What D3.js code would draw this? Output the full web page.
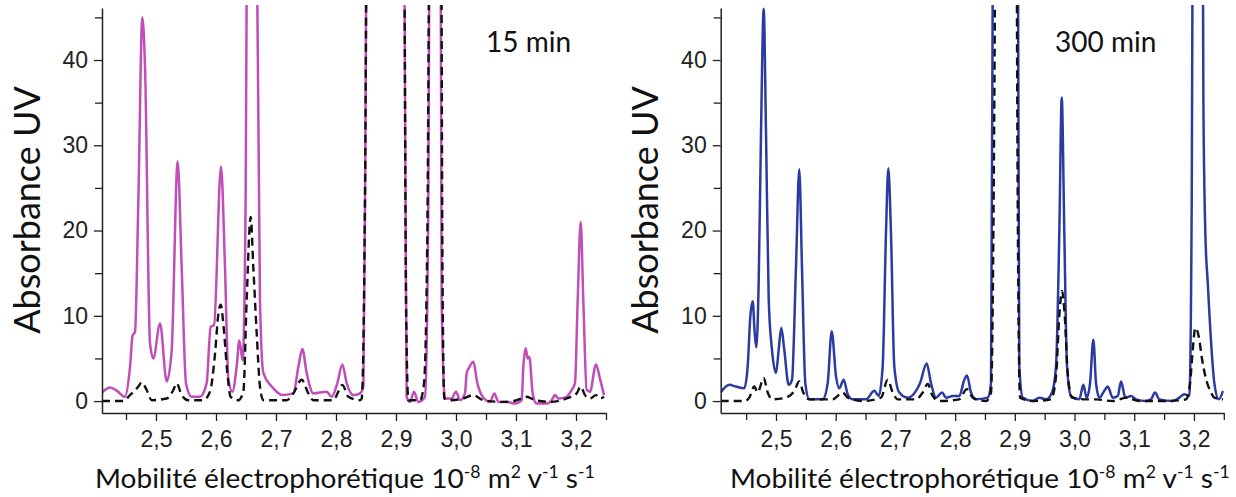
<!DOCTYPE html>
<html><head><meta charset="utf-8">
<script src="https://cdn.jsdelivr.net/npm/d3@7"></script>
<style>
body{margin:0;background:#fff}
.tick text{font-family:"Liberation Sans",Arial,sans-serif;fill:#222}
</style></head>
<body><svg id="chart" width="1236" height="497"></svg>
<script>
// ---------- data ----------
const xMajorTicks = [2.5, 2.6, 2.7, 2.8, 2.9, 3.0, 3.1, 3.2];
const xMinorTicks = [2.45, 2.55, 2.65, 2.75, 2.85, 2.95, 3.05, 3.15, 3.25];
const yMajorTicks = [0, 10, 20, 30, 40];
const yMinorTicks = [5, 15, 25, 35, 45];
const panelTitles = ["15 min", "300 min"];
const yLabel = "Absorbance UV";

// 15 min sample (solid, magenta)
const sample15 = [[2.41,1.0],[2.4233,1.6],[2.435,1.2],[2.448,0.5],[2.4567,4.0],[2.461,7.7],[2.465,8.1],[2.4706,23.6],[2.4772,45.0],[2.4817,39.2],[2.49,6.8],[2.4956,5.0],[2.5067,9.1],[2.5178,2.3],[2.526,5.8],[2.5361,28.1],[2.5428,15.7],[2.55,2.1],[2.5594,0.5],[2.5733,0.5],[2.5844,2.1],[2.5911,8.7],[2.5967,8.9],[2.6083,27.5],[2.615,15.7],[2.6206,2.6],[2.6272,1.1],[2.6344,4.0],[2.6389,7.1],[2.6444,4.8],[2.6494,23.6],[2.6525,70],[2.66,120],[2.6665,70],[2.6733,11.8],[2.6789,3.3],[2.6928,1.7],[2.7011,1.1],[2.7094,0.7],[2.7289,0.9],[2.7372,4.0],[2.7439,6.1],[2.7511,3.3],[2.7622,0.9],[2.7844,1.1],[2.7928,0.5],[2.8022,2.1],[2.8106,4.3],[2.8178,2.1],[2.8289,0.7],[2.84,0.9],[2.8456,1.7],[2.849,30],[2.853,90],[2.88,250],[2.911,90],[2.9155,30],[2.9178,0.5],[2.9233,-0.1],[2.93,1.1],[2.9372,-0.1],[2.9483,0.5],[2.9539,23.6],[2.957,80],[2.965,150],[2.9735,80],[2.9761,11.8],[2.9817,0.3],[2.9928,0.3],[3.0,1.1],[3.0067,0.1],[3.015,0.9],[3.0178,3.3],[3.0217,3.9],[3.0289,4.6],[3.0356,2.1],[3.0428,0.7],[3.0567,-0.1],[3.0639,0.9],[3.0706,-0.1],[3.0844,-0.1],[3.0983,-0.3],[3.1094,0.1],[3.1122,4.0],[3.1161,6.2],[3.1194,5.0],[3.1222,5.2],[3.1278,0.9],[3.1344,-0.3],[3.1511,-0.3],[3.1594,0.1],[3.165,0.7],[3.1706,0.3],[3.1844,0.5],[3.1928,1.3],[3.1983,2.1],[3.2028,11.8],[3.2078,21.0],[3.2122,11.8],[3.2178,1.3],[3.2233,1.1],[3.2333,4.3],[3.24,2.6],[3.2467,0.7]];

// 15 min reference (dashed, black)
const ref15 = [[2.41,0],[2.445,0],[2.4567,0.7],[2.4706,1.7],[2.4761,2.2],[2.4844,1.3],[2.4928,0.1],[2.5178,0.3],[2.5289,1.3],[2.5344,2.1],[2.5428,0.7],[2.5539,0.1],[2.5789,0.1],[2.59,1.1],[2.5983,5.5],[2.6039,10.2],[2.6078,11.3],[2.6133,8.2],[2.6189,3.3],[2.6244,0.5],[2.6372,0.1],[2.6456,1.1],[2.6511,11.8],[2.6578,21.6],[2.6622,15.7],[2.6678,8.0],[2.6733,1.7],[2.6789,0.1],[2.7178,0.1],[2.7289,0.9],[2.7428,2.5],[2.7539,0.9],[2.7622,0.1],[2.7956,0.1],[2.8039,1.1],[2.8106,1.9],[2.8206,0.5],[2.84,0.1],[2.8428,0.3],[2.8483,23.6],[2.8525,80],[2.88,250],[2.9125,80],[2.9167,11.8],[2.9206,0.1],[2.94,0.1],[2.9467,2.1],[2.9522,19.6],[2.9565,70],[2.966,150],[2.975,70],[2.9775,15],[2.9805,0.3],[2.99,0.1],[3.0122,0.3],[3.0289,0.7],[3.0456,0.1],[3.0789,-0.1],[3.1011,0.1],[3.1178,0.5],[3.1317,0.1],[3.1567,-0.1],[3.1844,0.3],[3.2011,0.9],[3.2078,1.7],[3.215,0.7],[3.2233,0.3],[3.2333,0.7],[3.24,0.3],[3.2467,0.5]];

// 300 min sample (solid, blue)
const sample300 = [[2.4074,1.0],[2.4218,1.9],[2.433,1.7],[2.4469,1.5],[2.4526,4.1],[2.457,9.9],[2.461,11.7],[2.4643,8.0],[2.467,6.3],[2.471,13.9],[2.4749,31.4],[2.4794,46.0],[2.4833,31.4],[2.4878,11.9],[2.4933,6.0],[2.5,3.3],[2.5045,6.0],[2.5089,8.6],[2.5139,6.0],[2.5213,1.9],[2.5268,2.5],[2.5335,15.8],[2.539,27.2],[2.5435,15.8],[2.5491,2.1],[2.5558,0.2],[2.5782,0.2],[2.5866,2.1],[2.5933,8.2],[2.6005,2.9],[2.606,1.5],[2.6134,2.5],[2.6201,0.8],[2.6285,0.2],[2.6508,0.2],[2.6647,1.2],[2.672,0.6],[2.6787,4.1],[2.6842,19.7],[2.6881,27.3],[2.6926,19.7],[2.6981,4.1],[2.7065,1.0],[2.7206,0.4],[2.7345,1.2],[2.7412,2.1],[2.7524,4.4],[2.7596,2.1],[2.768,0.4],[2.7781,1.0],[2.7848,0.4],[2.796,0.6],[2.807,0.6],[2.8154,2.5],[2.8199,3.0],[2.8266,1.0],[2.835,0.2],[2.8546,0.4],[2.8601,2.1],[2.8635,60],[2.885,250],[2.905,60],[2.9075,4.1],[2.9132,0.4],[2.93,0.0],[2.941,0.4],[2.9523,0.2],[2.9623,1.0],[2.969,4.1],[2.9745,19.7],[2.9786,35.6],[2.9829,19.7],[2.9874,4.1],[2.9941,0.6],[3.008,0.2],[3.0147,1.9],[3.0204,0.4],[3.026,2.1],[3.0315,7.2],[3.036,2.1],[3.0416,0.4],[3.0499,1.2],[3.0556,1.7],[3.064,0.4],[3.0724,0.6],[3.0779,2.3],[3.0851,0.4],[3.0946,0.6],[3.103,0.2],[3.1198,0.0],[3.1281,0.2],[3.1348,1.0],[3.142,0.2],[3.1645,0.0],[3.1755,0.4],[3.1839,0.8],[3.1923,0.6],[3.1963,23.7],[3.198,60],[3.206,150],[3.2147,60],[3.2158,35.4],[3.2191,19.7],[3.2231,13.9],[3.2342,2.1],[3.2415,0.2],[3.2487,1.2]];

// 300 min reference (dashed, black)
const ref300 = [[2.4074,0],[2.448,0],[2.4553,0.4],[2.4637,1.7],[2.4693,1.0],[2.4794,2.7],[2.4861,1.0],[2.4945,0.2],[2.5168,0.4],[2.5307,1.2],[2.539,2.3],[2.5457,1.0],[2.5558,0.2],[2.595,0.2],[2.6117,1.0],[2.6201,0.4],[2.6452,0],[2.6759,0.4],[2.6871,2.5],[2.6955,1.0],[2.7039,0.2],[2.7345,0.2],[2.7457,1.0],[2.7541,2.0],[2.7624,0.6],[2.7736,0],[2.807,0.2],[2.8194,1.4],[2.8295,0.4],[2.8518,0],[2.8601,1.0],[2.8657,35.4],[2.869,80],[2.885,250],[2.902,80],[2.9048,23.7],[2.9087,0.4],[2.93,0],[2.9606,0.2],[2.969,2.9],[2.9745,10.0],[2.979,12.9],[2.9836,10.0],[2.9886,3.3],[2.9958,0.4],[3.0193,0.2],[3.036,0.2],[3.064,0],[3.0863,0.4],[3.1085,0],[3.1533,0],[3.1868,0.2],[3.1935,2.1],[3.198,6.0],[3.2023,8.6],[3.208,7.6],[3.2136,4.9],[3.2191,2.9],[3.2286,1.0],[3.2342,0.4],[3.2487,0.2]];

// ---------- layout ----------
const panels = [
  {title: panelTitles[0], sample: sample15, ref: ref15, color: "#c04db8",
   xDomain: [2.41, 3.25], xRange: [102, 606], titleX: 486, labelCx: 345, yLabelX: 40},
  {title: panelTitles[1], sample: sample300, ref: ref300, color: "#2c3ba1",
   xDomain: [2.4074, 3.25], xRange: [720.7, 1223.8], titleX: 1055, labelCx: 980, yLabelX: 658}
];
const yDomain = [-1.4, 46.1], yRange = [413, 8];

const svg = d3.select("#chart");
const fmt = d => d.toFixed(1).replace(".", ",");

panels.forEach((p, i) => {
  const x = d3.scaleLinear().domain(p.xDomain).range(p.xRange);
  const y = d3.scaleLinear().domain(yDomain).range(yRange);

  const clipId = "clip" + i;
  svg.append("clipPath").attr("id", clipId).append("rect")
    .attr("x", p.xRange[0]).attr("y", 5)
    .attr("width", p.xRange[1] - p.xRange[0]).attr("height", yRange[0] - 5);

  const line = d3.line().x(d => x(d[0])).y(d => y(d[1])).curve(d3.curveMonotoneX);
  const g = svg.append("g").attr("clip-path", `url(#${clipId})`);
  g.append("path").datum(p.sample).attr("d", line)
    .attr("fill", "none").attr("stroke", p.color).attr("stroke-width", 2.5)
    .attr("stroke-linejoin", "round");
  g.append("path").datum(p.ref).attr("d", line)
    .attr("fill", "none").attr("stroke", "#111").attr("stroke-width", 2.4)
    .attr("stroke-dasharray", "8,5");

  // axes
  const xAxis = svg.append("g").attr("transform", `translate(0,${yRange[0]})`)
    .call(d3.axisBottom(x).tickValues(xMajorTicks).tickFormat(fmt).tickSize(8).tickSizeOuter(0).tickPadding(10));
  svg.append("g").attr("transform", `translate(0,${yRange[0]})`)
    .call(d3.axisBottom(x).tickValues(xMinorTicks).tickFormat("").tickSize(7).tickSizeOuter(0))
    .select(".domain").remove();
  const yAxis = svg.append("g").attr("transform", `translate(${p.xRange[0]},0)`)
    .call(d3.axisLeft(y).tickValues(yMajorTicks).tickFormat(d3.format("d")).tickSize(8).tickSizeOuter(0).tickPadding(6));
  svg.append("g").attr("transform", `translate(${p.xRange[0]},0)`)
    .call(d3.axisLeft(y).tickValues(yMinorTicks).tickFormat("").tickSize(7).tickSizeOuter(0))
    .select(".domain").remove();
  svg.selectAll(".domain").attr("stroke", "#222").attr("stroke-width", 1.5);
  svg.selectAll(".tick line").attr("stroke", "#222").attr("stroke-width", 1.3);
  xAxis.selectAll("text").style("font-size", "23px");
  yAxis.selectAll("text").style("font-size", "23px");

  // panel title
  svg.append("text").attr("x", p.titleX).attr("y", 52)
    .style("font-family", "Lato, 'Open Sans', sans-serif").style("font-size", "28px").attr("fill", "#111")
    .text(p.title);

  // y label
  svg.append("text").attr("transform", `translate(${p.yLabelX},210) rotate(-90)`)
    .attr("text-anchor", "middle")
    .style("font-family", "Lato, 'Open Sans', sans-serif").style("font-size", "36px").attr("fill", "#111")
    .text(yLabel);

  // x label with superscripts
  const t = svg.append("text").attr("x", 0).attr("y", 0)
    .style("font-family", "Lato, 'Open Sans', sans-serif").style("font-size", "27px").attr("fill", "#111");
  t.append("tspan").text("Mobilité électrophorétique 10");
  t.append("tspan").attr("dy", -10).style("font-size", "17px").text("-8");
  t.append("tspan").attr("dy", 10).text(" m");
  t.append("tspan").attr("dy", -10).style("font-size", "17px").text("2");
  t.append("tspan").attr("dy", 10).text(" v");
  t.append("tspan").attr("dy", -10).style("font-size", "17px").text("-1");
  t.append("tspan").attr("dy", 10).text(" s");
  t.append("tspan").attr("dy", -10).style("font-size", "17px").text("-1");
  const bb = t.node().getBBox();
  const target = 500;
  const s = target / bb.width;
  t.attr("transform", `translate(${p.labelCx - target / 2},488) scale(${s},1)`);
});
</script>
</body></html>
